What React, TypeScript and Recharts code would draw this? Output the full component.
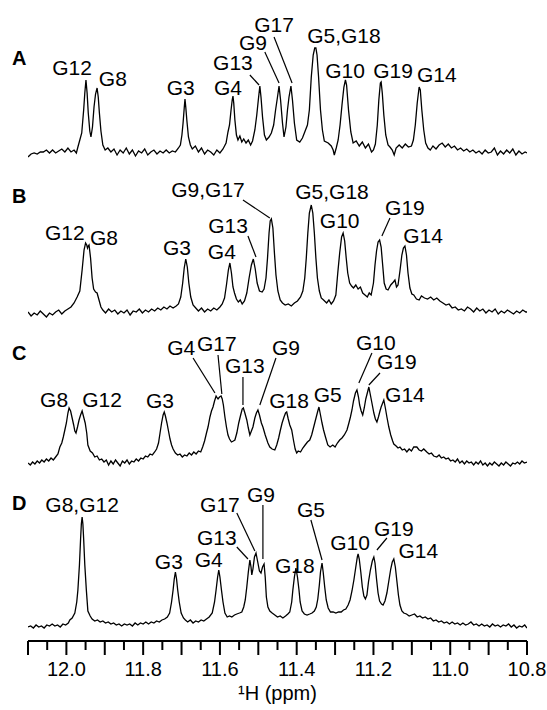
import { LineChart, Line, XAxis, YAxis, ReferenceDot, ReferenceLine } from 'recharts';

// each trace: [ppm, intensity] (intensity in arbitrary units, baseline ~ 0)
type Pt = [number, number];

const traceA: Pt[] = [
  [12.100, -2], [12.092, 1], [12.084, 2], [12.076, 1], [12.068, 3], [12.060, 3], [12.052, 5], [12.044, 2],
  [12.036, 5], [12.028, 2], [12.020, 4], [12.012, 6], [12.004, 3], [11.996, 7], [11.988, 3], [11.980, 5],
  [11.974, 2], [11.970, 8], [11.965, 15], [11.960, 22], [11.955, 45], [11.952, 62], [11.949, 75], [11.946, 62],
  [11.943, 42], [11.939, 24], [11.936, 18], [11.932, 28], [11.928, 48], [11.924, 61], [11.920, 67], [11.917, 58],
  [11.914, 42], [11.910, 24], [11.905, 10], [11.899, 5], [11.892, 7], [11.884, 3], [11.876, 6], [11.868, 0],
  [11.860, 5], [11.852, 2], [11.844, 7], [11.836, 1], [11.828, 5], [11.820, -1], [11.812, 4], [11.804, 2],
  [11.796, 6], [11.788, 0], [11.780, 3], [11.772, 5], [11.764, 1], [11.756, 4], [11.748, 2], [11.740, 5],
  [11.732, 2], [11.724, 4], [11.716, 3], [11.708, 7], [11.703, 10], [11.699, 20], [11.696, 32], [11.693, 47],
  [11.691, 56], [11.689, 48], [11.686, 34], [11.682, 18], [11.677, 10], [11.672, 6], [11.664, 9], [11.656, 3],
  [11.648, 7], [11.640, 1], [11.632, 5], [11.624, 3], [11.616, 0], [11.608, 5], [11.600, 2], [11.592, 6],
  [11.584, 12], [11.579, 23], [11.575, 30], [11.571, 45], [11.568, 55], [11.566, 59], [11.564, 52], [11.561, 35],
  [11.557, 20], [11.553, 15], [11.548, 19], [11.543, 13], [11.538, 16], [11.532, 12], [11.526, 15], [11.520, 10],
  [11.515, 14], [11.509, 25], [11.504, 40], [11.500, 55], [11.496, 69], [11.493, 58], [11.489, 38], [11.484, 20],
  [11.479, 15], [11.472, 18], [11.466, 22], [11.460, 30], [11.455, 45], [11.450, 58], [11.446, 69], [11.442, 55],
  [11.437, 32], [11.433, 18], [11.428, 28], [11.424, 45], [11.420, 58], [11.415, 69], [11.411, 55], [11.406, 32],
  [11.400, 15], [11.392, 13], [11.385, 17], [11.378, 24], [11.372, 30], [11.367, 45], [11.362, 78], [11.357, 100],
  [11.353, 107], [11.350, 107], [11.347, 100], [11.343, 78], [11.338, 45], [11.333, 25], [11.328, 14], [11.318, 12],
  [11.310, 9], [11.305, 5], [11.302, 0], [11.297, 7], [11.292, 15], [11.287, 30], [11.282, 50], [11.277, 68],
  [11.273, 75], [11.270, 70], [11.265, 45], [11.259, 23], [11.253, 12], [11.245, 14], [11.237, 9], [11.229, 13],
  [11.221, 7], [11.213, 11], [11.205, 3], [11.200, 5], [11.195, 11], [11.190, 30], [11.186, 55], [11.182, 72],
  [11.180, 73], [11.177, 62], [11.173, 40], [11.168, 20], [11.162, 10], [11.157, 8], [11.151, 5], [11.146, 0],
  [11.141, 7], [11.133, 10], [11.125, 7], [11.117, 11], [11.109, 8], [11.101, 9], [11.096, 15], [11.091, 30],
  [11.086, 52], [11.081, 68], [11.078, 65], [11.074, 45], [11.069, 25], [11.064, 12], [11.058, 7], [11.052, 5],
  [11.045, 9], [11.037, 6], [11.029, 10], [11.021, 12], [11.013, 8], [11.005, 11], [10.997, 7], [10.989, 9],
  [10.981, 5], [10.973, 7], [10.965, 4], [10.957, 6], [10.949, 3], [10.941, 5], [10.933, 2], [10.925, 4],
  [10.917, 1], [10.909, 5], [10.901, 2], [10.893, 3], [10.885, 7], [10.877, 0], [10.869, 4], [10.861, 1],
  [10.853, 5], [10.845, 2], [10.837, 6], [10.829, 0], [10.821, 4], [10.813, 1], [10.805, 3], [10.800, 2],
];

const traceB: Pt[] = [
  [12.100, 1], [12.092, -3], [12.084, 0], [12.076, -2], [12.068, 2], [12.060, -1], [12.052, -4], [12.044, 0],
  [12.036, -2], [12.028, 1], [12.020, 3], [12.012, -1], [12.004, 2], [11.996, 4], [11.988, 6], [11.980, 10],
  [11.972, 16], [11.965, 22], [11.959, 43], [11.954, 63], [11.950, 70], [11.947, 68], [11.945, 65], [11.943, 67],
  [11.941, 68], [11.937, 55], [11.933, 35], [11.929, 24], [11.924, 21], [11.920, 20], [11.915, 13], [11.910, 6],
  [11.905, 3], [11.898, 0], [11.890, 4], [11.882, 1], [11.874, 3], [11.866, -1], [11.858, 2], [11.850, 0],
  [11.842, 3], [11.834, -2], [11.826, 2], [11.818, 1], [11.810, 4], [11.802, 0], [11.794, 3], [11.786, 1],
  [11.778, 4], [11.770, 2], [11.762, 5], [11.754, 3], [11.746, 6], [11.738, 4], [11.730, 7], [11.722, 5],
  [11.714, 7], [11.708, 9], [11.702, 16], [11.697, 30], [11.693, 45], [11.689, 54], [11.685, 46], [11.681, 30],
  [11.676, 16], [11.670, 8], [11.663, 5], [11.656, 2], [11.648, 5], [11.640, 1], [11.632, 4], [11.624, 2],
  [11.616, 5], [11.608, 3], [11.600, 6], [11.594, 9], [11.588, 15], [11.583, 28], [11.578, 43], [11.574, 50],
  [11.570, 40], [11.566, 26], [11.562, 20], [11.557, 14], [11.552, 11], [11.547, 13], [11.542, 9], [11.536, 12],
  [11.530, 20], [11.524, 35], [11.518, 48], [11.513, 54], [11.508, 44], [11.503, 30], [11.497, 22], [11.490, 21],
  [11.485, 24], [11.480, 35], [11.476, 55], [11.472, 80], [11.469, 92], [11.466, 94], [11.462, 85], [11.458, 60],
  [11.454, 38], [11.449, 22], [11.443, 13], [11.437, 10], [11.430, 8], [11.422, 9], [11.414, 7], [11.406, 10],
  [11.398, 12], [11.390, 16], [11.384, 22], [11.379, 35], [11.375, 55], [11.371, 80], [11.367, 100], [11.362, 108],
  [11.358, 100], [11.354, 80], [11.350, 55], [11.346, 35], [11.341, 22], [11.336, 15], [11.330, 13], [11.322, 10],
  [11.316, 13], [11.310, 9], [11.304, 12], [11.298, 18], [11.293, 40], [11.288, 60], [11.283, 76], [11.279, 80],
  [11.275, 72], [11.271, 55], [11.267, 40], [11.262, 30], [11.257, 27], [11.252, 25], [11.246, 28], [11.240, 24],
  [11.234, 26], [11.228, 20], [11.222, 18], [11.216, 16], [11.211, 20], [11.206, 18], [11.200, 30], [11.196, 48],
  [11.192, 62], [11.188, 71], [11.184, 73], [11.180, 66], [11.176, 48], [11.172, 30], [11.167, 24], [11.162, 23],
  [11.155, 28], [11.148, 31], [11.144, 33], [11.140, 26], [11.136, 28], [11.131, 42], [11.126, 58], [11.122, 65],
  [11.118, 67], [11.114, 58], [11.110, 40], [11.105, 25], [11.100, 19], [11.095, 18], [11.088, 14], [11.081, 13],
  [11.075, 17], [11.067, 15], [11.059, 14], [11.051, 16], [11.043, 13], [11.035, 15], [11.027, 12], [11.019, 10],
  [11.011, 8], [11.003, 9], [10.995, 5], [10.987, 6], [10.979, 3], [10.971, 4], [10.963, 2], [10.955, 6],
  [10.947, 4], [10.939, 1], [10.931, 5], [10.923, 2], [10.915, 4], [10.907, 0], [10.899, 3], [10.891, 1],
  [10.883, 4], [10.875, -1], [10.867, 2], [10.859, 0], [10.851, 3], [10.843, 1], [10.835, -1], [10.827, 2],
  [10.819, 0], [10.811, 3], [10.803, 1], [10.800, 1],
];

const traceC: Pt[] = [
  [12.100, 0], [12.094, -2], [12.088, 1], [12.082, -1], [12.076, 2], [12.070, 0], [12.064, 3], [12.058, 1],
  [12.052, 4], [12.046, 2], [12.040, 5], [12.034, 3], [12.028, 6], [12.022, 9], [12.017, 16], [12.012, 20],
  [12.008, 26], [12.004, 33], [12.000, 40], [11.996, 50], [11.993, 55], [11.989, 52], [11.985, 45], [11.981, 38],
  [11.978, 32], [11.975, 30], [11.971, 36], [11.967, 43], [11.963, 48], [11.959, 52], [11.955, 46], [11.951, 40],
  [11.947, 30], [11.944, 18], [11.938, 12], [11.932, 10], [11.926, 6], [11.920, 7], [11.914, 3], [11.908, 4],
  [11.902, 1], [11.896, 3], [11.890, -2], [11.884, 2], [11.878, -1], [11.872, 3], [11.866, 0], [11.860, -3],
  [11.854, 2], [11.848, 0], [11.842, 3], [11.836, -1], [11.830, 2], [11.824, 1], [11.818, 4], [11.812, 2],
  [11.806, 5], [11.800, 4], [11.794, 7], [11.788, 6], [11.782, 9], [11.776, 8], [11.770, 11], [11.765, 14],
  [11.760, 20], [11.756, 30], [11.752, 40], [11.748, 48], [11.745, 51], [11.742, 47], [11.738, 40], [11.734, 32],
  [11.730, 24], [11.726, 18], [11.722, 14], [11.716, 10], [11.710, 8], [11.704, 9], [11.698, 6], [11.692, 8],
  [11.686, 7], [11.680, 10], [11.674, 8], [11.668, 11], [11.662, 9], [11.656, 12], [11.650, 11], [11.645, 16],
  [11.640, 22], [11.635, 30], [11.631, 36], [11.626, 46], [11.622, 52], [11.618, 56], [11.614, 62], [11.610, 67],
  [11.607, 65], [11.605, 64], [11.601, 66], [11.597, 67], [11.594, 64], [11.591, 58], [11.587, 46], [11.583, 36],
  [11.579, 28], [11.575, 24], [11.570, 21], [11.565, 22], [11.561, 23], [11.556, 30], [11.551, 40], [11.546, 48],
  [11.542, 54], [11.539, 55], [11.535, 50], [11.530, 43], [11.526, 35], [11.522, 28], [11.518, 32], [11.514, 36],
  [11.509, 45], [11.505, 50], [11.501, 53], [11.497, 48], [11.492, 40], [11.488, 36], [11.482, 28], [11.475, 20],
  [11.470, 16], [11.464, 14], [11.457, 13], [11.452, 18], [11.447, 25], [11.443, 32], [11.438, 40], [11.433, 46],
  [11.429, 50], [11.426, 51], [11.422, 44], [11.418, 38], [11.413, 33], [11.408, 22], [11.404, 14], [11.400, 10],
  [11.396, 12], [11.390, 11], [11.384, 15], [11.378, 18], [11.372, 21], [11.366, 23], [11.361, 28], [11.357, 34],
  [11.353, 40], [11.349, 46], [11.345, 52], [11.342, 56], [11.338, 48], [11.334, 40], [11.330, 33], [11.325, 26],
  [11.319, 18], [11.313, 16], [11.306, 18], [11.300, 16], [11.294, 20], [11.288, 23], [11.282, 25], [11.276, 28],
  [11.269, 33], [11.264, 40], [11.260, 46], [11.256, 53], [11.252, 62], [11.247, 70], [11.243, 73], [11.239, 66],
  [11.236, 58], [11.232, 52], [11.228, 48], [11.224, 55], [11.220, 64], [11.216, 70], [11.212, 76], [11.208, 68],
  [11.204, 60], [11.199, 50], [11.195, 44], [11.191, 41], [11.187, 46], [11.183, 52], [11.180, 56], [11.176, 60],
  [11.173, 63], [11.169, 55], [11.165, 46], [11.160, 36], [11.155, 28], [11.150, 22], [11.147, 19], [11.141, 17],
  [11.136, 15], [11.131, 16], [11.125, 13], [11.119, 14], [11.113, 11], [11.107, 14], [11.101, 12], [11.095, 16],
  [11.087, 16], [11.081, 13], [11.075, 12], [11.069, 14], [11.061, 11], [11.055, 9], [11.049, 10], [11.043, 7],
  [11.035, 6], [11.029, 8], [11.023, 5], [11.017, 6], [11.011, 4], [11.005, 5], [10.999, 2], [10.993, 3],
  [10.987, 1], [10.981, 4], [10.975, 0], [10.969, 2], [10.963, -1], [10.957, 2], [10.951, 0], [10.945, 1],
  [10.939, -2], [10.933, 1], [10.927, -1], [10.921, 2], [10.915, -2], [10.909, 0], [10.903, -3], [10.897, 0],
  [10.891, -2], [10.885, 1], [10.879, -1], [10.873, -3], [10.867, 0], [10.861, -2], [10.855, 1], [10.849, -1],
  [10.843, -3], [10.837, 0], [10.831, -1], [10.825, 1], [10.819, -1], [10.813, 2], [10.807, 0], [10.800, 1],
];

const traceD: Pt[] = [
  [12.100, 0], [12.093, 1], [12.086, -1], [12.079, 2], [12.072, 0], [12.065, 1], [12.058, -1], [12.051, 2],
  [12.044, 1], [12.037, 3], [12.030, 1], [12.023, 2], [12.016, 0], [12.009, 3], [12.002, 2], [11.995, 4],
  [11.991, 7], [11.985, 9], [11.978, 14], [11.973, 25], [11.970, 37], [11.966, 62], [11.963, 88], [11.961, 103],
  [11.959, 110], [11.957, 103], [11.955, 88], [11.952, 62], [11.948, 37], [11.944, 16], [11.938, 11], [11.933, 8],
  [11.926, 6], [11.919, 7], [11.912, 5], [11.905, 6], [11.898, 4], [11.891, 5], [11.884, 3], [11.877, 4],
  [11.870, 2], [11.863, 3], [11.856, 1], [11.849, 3], [11.842, 2], [11.835, 3], [11.828, 1], [11.821, 4],
  [11.814, 2], [11.807, 4], [11.800, 3], [11.793, 5], [11.786, 3], [11.779, 5], [11.772, 4], [11.765, 6],
  [11.758, 5], [11.751, 7], [11.744, 8], [11.737, 10], [11.731, 14], [11.726, 25], [11.722, 37], [11.719, 48],
  [11.716, 55], [11.713, 48], [11.710, 37], [11.706, 25], [11.701, 14], [11.695, 9], [11.690, 7], [11.684, 5],
  [11.677, 7], [11.670, 4], [11.663, 6], [11.656, 5], [11.649, 7], [11.642, 6], [11.635, 8], [11.628, 10],
  [11.620, 14], [11.614, 25], [11.610, 37], [11.606, 50], [11.603, 57], [11.600, 50], [11.596, 37], [11.592, 25],
  [11.587, 14], [11.581, 10], [11.575, 11], [11.569, 10], [11.562, 12], [11.556, 13], [11.549, 14], [11.543, 15],
  [11.538, 20], [11.534, 27], [11.530, 40], [11.526, 55], [11.522, 67], [11.519, 60], [11.517, 52], [11.514, 58],
  [11.510, 70], [11.506, 74], [11.502, 66], [11.497, 56], [11.493, 54], [11.489, 60], [11.485, 63], [11.482, 50],
  [11.479, 30], [11.475, 20], [11.470, 16], [11.464, 14], [11.457, 12], [11.450, 10], [11.443, 11], [11.436, 9],
  [11.429, 11], [11.423, 13], [11.418, 15], [11.413, 25], [11.410, 37], [11.406, 50], [11.402, 59], [11.398, 50],
  [11.394, 37], [11.391, 25], [11.386, 16], [11.380, 13], [11.373, 12], [11.366, 13], [11.360, 14], [11.354, 16],
  [11.349, 20], [11.345, 28], [11.341, 42], [11.338, 55], [11.334, 64], [11.331, 55], [11.327, 40], [11.323, 27],
  [11.318, 19], [11.312, 15], [11.305, 15], [11.298, 14], [11.291, 15], [11.284, 15], [11.278, 17], [11.272, 18],
  [11.266, 22], [11.261, 27], [11.256, 36], [11.251, 47], [11.246, 60], [11.242, 70], [11.240, 73], [11.237, 68],
  [11.233, 55], [11.229, 40], [11.225, 31], [11.221, 28], [11.217, 32], [11.213, 45], [11.208, 57], [11.203, 66],
  [11.199, 70], [11.196, 64], [11.192, 48], [11.188, 34], [11.184, 26], [11.179, 23], [11.175, 22], [11.170, 26],
  [11.165, 34], [11.160, 46], [11.155, 58], [11.151, 65], [11.147, 68], [11.143, 60], [11.139, 46], [11.135, 32],
  [11.131, 22], [11.126, 16], [11.121, 14], [11.114, 13], [11.107, 11], [11.100, 12], [11.093, 13], [11.086, 10],
  [11.079, 11], [11.072, 9], [11.065, 10], [11.058, 8], [11.051, 9], [11.044, 6], [11.037, 7], [11.030, 5],
  [11.023, 6], [11.016, 4], [11.009, 5], [11.002, 3], [10.995, 5], [10.988, 3], [10.981, 4], [10.974, 2],
  [10.967, 4], [10.960, 2], [10.953, 3], [10.946, 5], [10.939, 2], [10.932, 3], [10.925, 1], [10.918, 3],
  [10.911, 1], [10.904, 2], [10.897, 0], [10.890, 3], [10.883, 1], [10.876, 2], [10.869, 0], [10.862, 2],
  [10.855, 1], [10.848, 3], [10.841, 0], [10.834, 2], [10.827, -1], [10.820, 1], [10.813, 0], [10.806, 2],
  [10.800, -1],
];

// peak assignments: [text, ppm, height of label centre]
type Lab = [string, number, number];
const labelsA: Lab[] = [
  ['G12', 11.985, 87], ['G8', 11.879, 76], ['G3', 11.702, 67], ['G4', 11.579, 67], ['G13', 11.566, 92],
  ['G9', 11.514, 112], ['G17', 11.459, 130], ['G5,G18', 11.277, 119], ['G10', 11.274, 84],
  ['G19', 11.149, 84], ['G14', 11.035, 80],
];
const labelsB: Lab[] = [
  ['G12', 12.004, 80], ['G8', 11.902, 75], ['G3', 11.712, 65], ['G4', 11.595, 61], ['G13', 11.579, 87],
  ['G9,G17', 11.631, 123], ['G5,G18', 11.308, 121], ['G10', 11.288, 92], ['G19', 11.118, 105],
  ['G14', 11.071, 77],
];
const labelsC: Lab[] = [
  ['G8', 12.032, 63], ['G12', 11.907, 63], ['G3', 11.756, 62], ['G4', 11.701, 115], ['G17', 11.608, 119],
  ['G13', 11.535, 97], ['G9', 11.428, 115], ['G18', 11.420, 62], ['G5', 11.319, 68], ['G10', 11.194, 120],
  ['G19', 11.139, 101], ['G14', 11.118, 68],
];
const labelsD: Lab[] = [
  ['G8,G12', 11.959, 122], ['G3', 11.733, 65], ['G4', 11.629, 67], ['G13', 11.608, 89], ['G17', 11.600, 122],
  ['G9', 11.493, 132], ['G18', 11.405, 61], ['G5', 11.363, 117], ['G10', 11.261, 84], ['G19', 11.147, 98],
  ['G14', 11.083, 76],
];

// leader lines from a label to its peak: [ppm1, h1, ppm2, h2]
type Lead = [number, number, number, number];
const leadersA: Lead[] = [[11.522, 80, 11.498, 70], [11.483, 103, 11.446, 72], [11.459, 118, 11.412, 72]];
const leadersB: Lead[] = [[11.527, 77, 11.506, 56], [11.540, 113, 11.470, 95], [11.157, 95, 11.178, 77]];
const leadersC: Lead[] = [
  [11.670, 105, 11.613, 70], [11.605, 108, 11.595, 69], [11.540, 86, 11.540, 58],
  [11.454, 105, 11.496, 58], [11.204, 110, 11.238, 80], [11.183, 90, 11.212, 78],
];
const leadersD: Lead[] = [
  [11.556, 80, 11.527, 68], [11.556, 114, 11.509, 76], [11.488, 122, 11.488, 68],
  [11.363, 107, 11.334, 67], [11.165, 89, 11.191, 77],
];

const ppmTicks = [
  12.1, 12.05, 12.0, 11.95, 11.9, 11.85, 11.8, 11.75, 11.7, 11.65, 11.6, 11.55, 11.5, 11.45,
  11.4, 11.35, 11.3, 11.25, 11.2, 11.15, 11.1, 11.05, 11.0, 10.95, 10.9, 10.85, 10.8,
];

const FONT = 'Arial, "Liberation Sans", sans-serif';

function PpmTick(props: any) {
  const { x, y, payload } = props;
  const v = payload.value as number;
  const h = Math.round(v * 100);
  const major = h % 10 === 0;
  const labelled = h % 20 === 0;
  return (
    <g>
      <line x1={x} x2={x} y1={y} y2={y + (major ? 14 : 9)} stroke="#000" strokeWidth={2} />
      {labelled && (
        <text x={x} y={y + 35} textAnchor="middle" fontSize={20} fontFamily={FONT} fill="#000">
          {v.toFixed(1)}
        </text>
      )}
    </g>
  );
}

interface PanelProps {
  trace: Pt[];
  labels: Lab[];
  leaders: Lead[];
  top: number;
  height: number;
  yDomain: [number, number];
  showAxis?: boolean;
}

function Panel({ trace, labels, leaders, top, height, yDomain, showAxis }: PanelProps) {
  const rows = trace.map(([ppm, i]) => ({ ppm, i }));
  return (
    <div style={{ position: 'absolute', left: 0, top, width: 547, height }}>
      <LineChart width={547} height={height} margin={{ top: 0, right: 20, bottom: 0, left: 28 }}>
        <XAxis
          type="number"
          dataKey="ppm"
          domain={[10.8, 12.1]}
          reversed
          allowDataOverflow
          hide={!showAxis}
          ticks={ppmTicks}
          interval={0}
          height={69}
          tickSize={0}
          tickMargin={0}
          tickLine={false}
          tick={<PpmTick />}
          axisLine={{ stroke: '#000', strokeWidth: 2 }}
          label={
            showAxis
              ? { value: '¹H (ppm)', position: 'insideBottom', offset: 10, fontSize: 20, fill: '#000', fontFamily: FONT }
              : undefined
          }
        />
        <YAxis type="number" hide domain={yDomain} allowDataOverflow />
        <Line
          data={rows}
          dataKey="i"
          type="linear"
          dot={false}
          stroke="#000"
          strokeWidth={1.3}
          isAnimationActive={false}
        />
        {leaders.map(([x1, y1, x2, y2], k) => (
          <ReferenceLine
            key={`l${k}`}
            segment={[{ x: x1, y: y1 }, { x: x2, y: y2 }]}
            stroke="#000"
            strokeWidth={1.2}
            ifOverflow="visible"
          />
        ))}
        {labels.map(([text, ppm, h]) => (
          <ReferenceDot
            key={text + ppm}
            x={ppm}
            y={h}
            r={0}
            fill="none"
            stroke="none"
            ifOverflow="visible"
            label={{ value: text, position: 'center', fontSize: 21, fill: '#000', fontFamily: FONT }}
          />
        ))}
      </LineChart>
    </div>
  );
}

export default function App() {
  return (
    <div style={{ position: 'absolute', left: 0, top: 0, width: 547, height: 710, background: '#fff', fontFamily: FONT }}>
      <Panel trace={traceA} labels={labelsA} leaders={leadersA} top={0} height={170} yDomain={[-15, 155]} />
      <Panel trace={traceB} labels={labelsB} leaders={leadersB} top={170} height={160} yDomain={[-17, 143]} />
      <Panel trace={traceC} labels={labelsC} leaders={leadersC} top={330} height={150} yDomain={[-17, 133]} />
      <Panel trace={traceD} labels={labelsD} leaders={leadersD} top={480} height={230} yDomain={[-14, 147]} showAxis />
      <svg width={547} height={710} style={{ position: 'absolute', left: 0, top: 0, pointerEvents: 'none' }}>
        {[['A', 65], ['B', 203], ['C', 360], ['D', 510]].map(([t, y]) => (
          <text key={t} x={12} y={y as number} fontSize={20} fontWeight="bold" fontFamily={FONT} fill="#000">
            {t}
          </text>
        ))}
      </svg>
    </div>
  );
}
